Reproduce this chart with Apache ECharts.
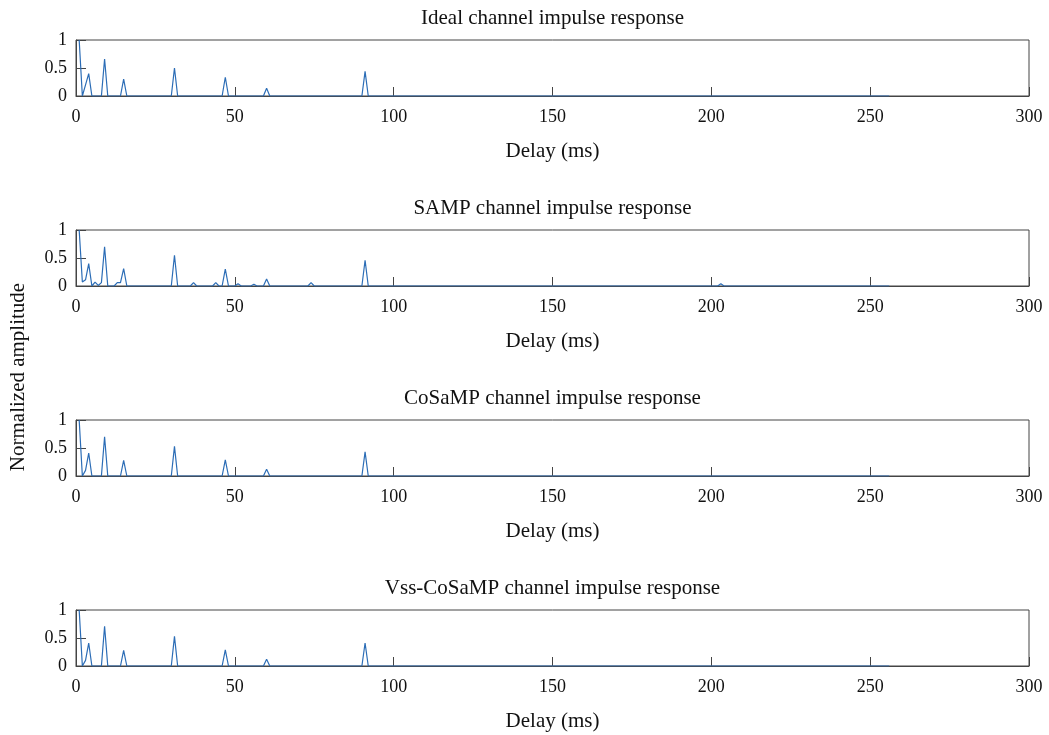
<!DOCTYPE html>
<html>
<head>
<meta charset="utf-8">
<script src="https://cdn.jsdelivr.net/npm/echarts@6/dist/echarts.min.js"></script>
<style>
html,body{margin:0;padding:0;background:#fff;}
#chart{width:1049px;height:735px;}
</style>
</head>
<body>
<div id="chart"></div>
<script>
// ---- Data ----
const panelTitles = [
  'Ideal channel impulse response',
  'SAMP channel impulse response',
  'CoSaMP channel impulse response',
  'Vss-CoSaMP channel impulse response'
];
const xTickLabels = ['0', '50', '100', '150', '200', '250', '300'];
const yTickLabels = ['0', '0.5', '1'];
const delayStart = 1;   // ms, first sample
const delayEnd = 256;   // ms, last sample

// non-zero taps: delay (ms) and normalized amplitude
const idealDelays = [1, 3, 4, 9, 15, 31, 47, 60, 91];
const idealAmps   = [1, 0.2, 0.40, 0.66, 0.30, 0.50, 0.335, 0.14, 0.44];

const sampDelays = [1, 2, 3, 4, 6, 7, 8, 9, 13, 14, 15, 31, 37, 44, 47, 51, 56, 60, 74, 91, 203];
const sampAmps   = [1, 0.07, 0.11, 0.40, 0.07, 0.01, 0.06, 0.70, 0.06, 0.06, 0.31, 0.55, 0.06, 0.06, 0.30, 0.04, 0.03, 0.125, 0.06, 0.46, 0.04];

const cosampDelays = [1, 3, 4, 9, 15, 31, 47, 60, 91];
const cosampAmps   = [1, 0.1, 0.41, 0.70, 0.28, 0.53, 0.29, 0.12, 0.43];

const vssDelays = [1, 3, 4, 9, 15, 31, 47, 60, 91];
const vssAmps   = [1, 0.1, 0.41, 0.71, 0.28, 0.53, 0.29, 0.12, 0.41];

// ---- Build dense sampled responses (zeros between taps) ----
function buildResponse(delays, amps) {
  const out = [];
  for (let t = delayStart; t <= delayEnd; t++) {
    const k = delays.indexOf(t);
    out.push([t, k >= 0 ? amps[k] : 0]);
  }
  return out;
}
const responses = [
  buildResponse(idealDelays, idealAmps),
  buildResponse(sampDelays, sampAmps),
  buildResponse(cosampDelays, cosampAmps),
  buildResponse(vssDelays, vssAmps)
];

// ---- Layout ----
const FONT = '"Liberation Serif", "DejaVu Serif", serif';
const AX = '#444444';
const LINE = '#2c6db6';
const gridLeft = 76, gridRight = 20, firstTop = 40, gridH = 56, step = 190;
const plotCenterX = gridLeft + (1049 - gridLeft - gridRight) / 2;

const grids = [], xAxes = [], yAxes = [], series = [], titles = [];
for (let i = 0; i < 4; i++) {
  grids.push({
    left: gridLeft, right: gridRight, top: firstTop + step * i, height: gridH,
    show: true, borderColor: AX, borderWidth: 1, backgroundColor: 'transparent'
  });
  xAxes.push({
    gridIndex: i, type: 'value', min: 0, max: 300, interval: 50,
    name: 'Delay (ms)', nameLocation: 'middle', nameGap: 45,
    nameTextStyle: { fontFamily: FONT, fontSize: 21, color: '#111' },
    axisLine: { show: true, lineStyle: { color: AX, width: 1 } },
    axisTick: { show: true, inside: true, length: 9, lineStyle: { color: AX } },
    axisLabel: {
      fontFamily: FONT, fontSize: 18, color: '#111', margin: 12,
      formatter: v => xTickLabels[Math.round(v / 50)]
    },
    splitLine: { show: false }
  });
  yAxes.push({
    gridIndex: i, type: 'value', min: 0, max: 1, interval: 0.5,
    axisLine: { show: true, lineStyle: { color: AX, width: 1 } },
    axisTick: { show: true, inside: true, length: 10, lineStyle: { color: AX } },
    axisLabel: {
      fontFamily: FONT, fontSize: 18, color: '#111', margin: 9,
      formatter: v => yTickLabels[Math.round(v / 0.5)]
    },
    splitLine: { show: false }
  });
  series.push({
    type: 'line', xAxisIndex: i, yAxisIndex: i, data: responses[i],
    showSymbol: false, symbol: 'none', smooth: false,
    lineStyle: { color: LINE, width: 1.2 }, z: 3
  });
  titles.push({
    text: panelTitles[i], left: plotCenterX, top: 8 + step * i, textAlign: 'center',
    padding: 0,
    textStyle: { fontFamily: FONT, fontSize: 21, fontWeight: 'normal', color: '#111' }
  });
}

const chart = echarts.init(document.getElementById('chart'), null, { renderer: 'canvas' });
chart.setOption({
  animation: false,
  backgroundColor: '#fff',
  title: titles,
  grid: grids,
  xAxis: xAxes,
  yAxis: yAxes,
  series: series,
  graphic: [{
    type: 'text',
    x: 18, y: 377,
    rotation: Math.PI / 2,
    style: {
      text: 'Normalized amplitude',
      font: '21px ' + FONT,
      fill: '#111',
      textAlign: 'center',
      textVerticalAlign: 'middle'
    }
  }]
});
</script>
</body>
</html>
